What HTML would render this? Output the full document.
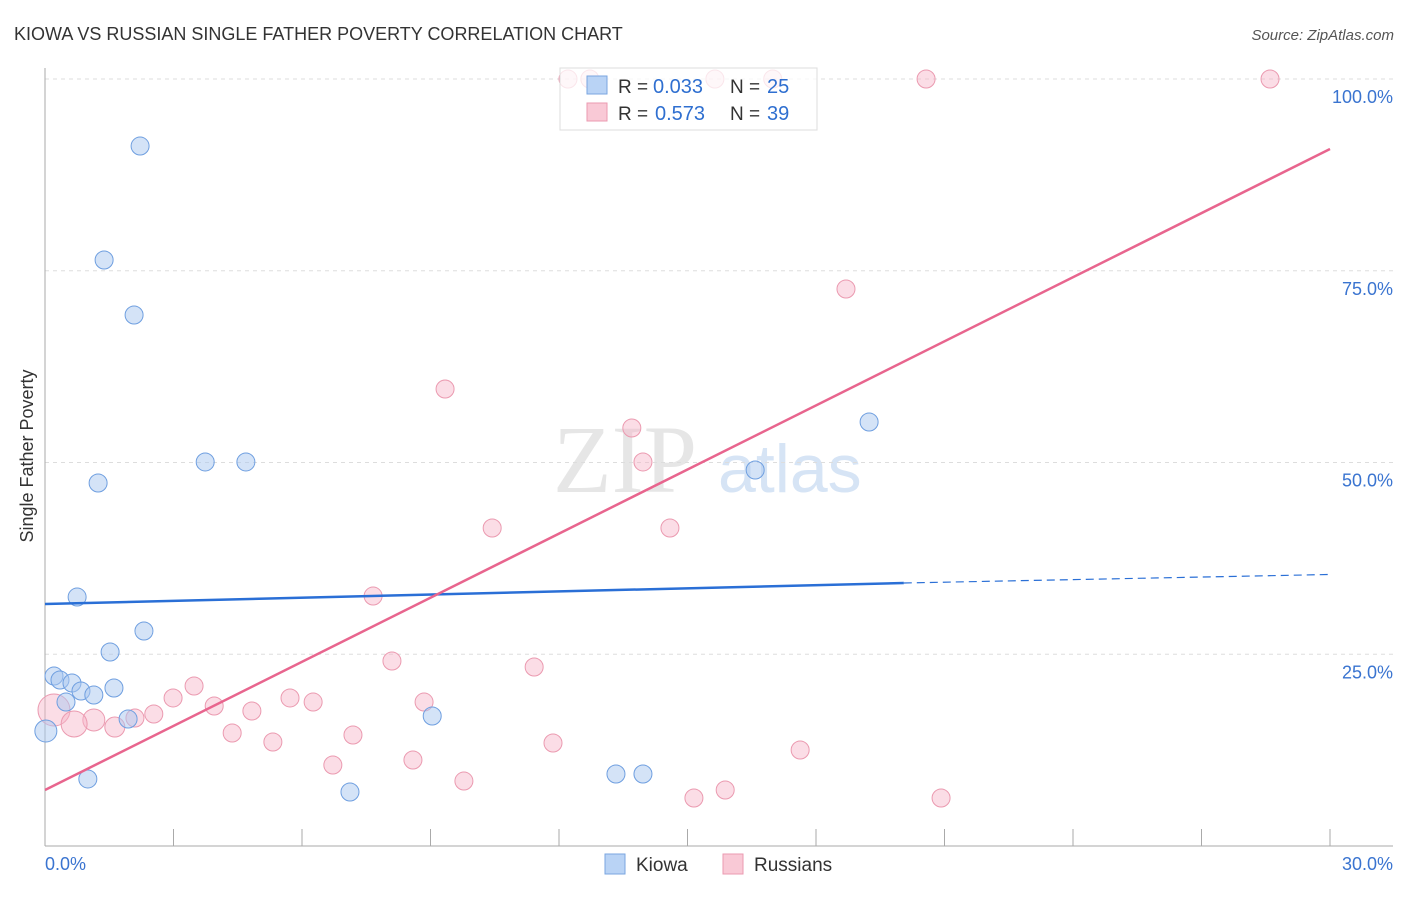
<!DOCTYPE html>
<html><head><meta charset="utf-8"><style>
body{margin:0;background:#fff;font-family:"Liberation Sans",sans-serif}
svg text{font-family:"Liberation Sans",sans-serif}
</style></head><body>
<svg id="c" width="1406" height="892">
<text x="14" y="40" font-size="18" fill="#333">KIOWA VS RUSSIAN SINGLE FATHER POVERTY CORRELATION CHART</text>
<text x="1394" y="40" font-size="15" fill="#555" font-style="italic" text-anchor="end">Source: ZipAtlas.com</text>
<text x="33" y="456" font-size="18" fill="#333" text-anchor="middle" transform="rotate(-90 33 456)">Single Father Poverty</text>
<text x="553" y="492" font-size="96" fill="#e6e6e6" style="font-family:'Liberation Serif',serif">ZIP</text>
<text x="718" y="492" font-size="68" fill="#d6e4f5">atlas</text>
<g id="grid"></g><g id="pts"></g><g id="lines"></g>
<g>
<rect x="560" y="68" width="257" height="62" fill="#fff" fill-opacity="0.75" stroke="#ddd"/>
<rect x="587" y="76" width="20" height="18" fill="#b9d3f5" stroke="#7aa6e0"/>
<rect x="587" y="103" width="20" height="18" fill="#f9c9d6" stroke="#eb9ab0"/>
<text x="618" y="93" font-size="19" fill="#333">R =</text>
<text x="653" y="93" font-size="20" fill="#2f6fd0">0.033</text>
<text x="730" y="93" font-size="19" fill="#333">N =</text>
<text x="767" y="93" font-size="20" fill="#2f6fd0">25</text>
<text x="618" y="120" font-size="19" fill="#333">R =</text>
<text x="655" y="120" font-size="20" fill="#2f6fd0">0.573</text>
<text x="730" y="120" font-size="19" fill="#333">N =</text>
<text x="767" y="120" font-size="20" fill="#2f6fd0">39</text>
</g>
<g>
<rect x="605" y="854" width="20" height="20" fill="#b9d3f5" stroke="#7aa6e0"/>
<text x="636" y="871" font-size="19" fill="#333">Kiowa</text>
<rect x="723" y="854" width="20" height="20" fill="#f9c9d6" stroke="#eb9ab0"/>
<text x="754" y="871" font-size="19" fill="#333">Russians</text>
</g>
</svg>
<script>
const yTicks=[25,50,75,100];
const yTickLabels=["25.0%","50.0%","75.0%","100.0%"];
const xTickLabels=["0.0%","30.0%"];
const kiowaX=[2.22,1.38,2.08,3.74,4.69,1.24,0.75,2.31,1.52,0.21,0.35,0.63,0.84,1.14,1.61,0.49,1.94,0.02,9.04,1.00,7.12,13.33,13.96,16.58,19.24];
const kiowaY=[91.26,76.40,69.23,50.07,50.07,47.33,32.46,28.03,25.29,22.16,21.64,21.25,20.21,19.69,20.60,18.77,16.56,14.99,16.95,8.74,7.04,9.39,9.39,49.02,55.28];
const kiowaR=[9,9,9,9,9,9,9,9,9,9,9,9,9,9,9,9,9,11,9,9,9,9,9,9,9];
const rusX=[12.21,12.72,15.64,16.99,20.57,28.60,18.70,9.34,13.70,13.96,10.44,14.59,7.66,8.10,11.42,3.48,2.99,5.72,6.26,3.95,8.85,2.54,4.83,2.10,1.14,0.21,0.68,1.63,4.37,7.19,5.32,11.86,17.63,8.59,6.72,9.78,15.88,15.15,20.92];
const rusY=[100,100,100,100,100,100,72.62,59.58,54.50,50.07,41.46,41.46,32.59,24.12,23.34,20.86,19.30,19.30,18.77,18.25,18.77,17.21,17.60,16.69,16.43,17.73,15.91,15.51,14.73,14.47,13.56,13.43,12.52,11.21,10.56,8.47,7.30,6.26,6.26];
const rusR=[9,9,9,9,9,9,9,9,9,9,9,9,9,9,9,9,9,9,9,9,9,9,9,9,11,16,13,10,9,9,9,9,9,9,9,9,9,9,9];
const kiowaLine=[31.55,34.29,35.4];
const kiowaLineX=[0,20.05,30];
const rusLine=[7.30,90.87];
const rusLineX=[0,30];
const X=v=>45+v/30*1285, Y=v=>846-v/100*767;
const NS="http://www.w3.org/2000/svg";
function mk(t,a,p){const e=document.createElementNS(NS,t);for(const k in a)e.setAttribute(k,a[k]);p.appendChild(e);return e;}
const grid=document.getElementById('grid');
yTicks.forEach((t,i)=>{
 const l=mk('line',{x1:45,x2:1393,y1:Y(t),y2:Y(t),stroke:'#ddd','stroke-dasharray':'4,4'},grid);
 
 
 const tx=mk('text',{x:1393,y:Y(t)+24,'font-size':18,fill:'#3a74d0','text-anchor':'end'},grid);tx.textContent=yTickLabels[i];
 
 
});
const ax=mk('line',{x1:45,x2:45,y1:68,y2:846,stroke:'#aaa'},grid);


const bx=mk('line',{x1:45,x2:1393,y1:846,y2:846,stroke:'#aaa'},grid);


for(let i=1;i<=10;i++){const t=mk('line',{x1:X(i*3),x2:X(i*3),y1:829,y2:846,stroke:'#aaa'},grid);
 
 }
[[0,'start',45],[30,'end',1393]].forEach((d,i)=>{const t=mk('text',{x:d[2],y:870,'font-size':18,fill:'#3a74d0','text-anchor':d[1]},grid);t.textContent=xTickLabels[i];
 
 });
const pts=document.getElementById('pts');
rusX.forEach((x,i)=>{const c=mk('circle',{cx:X(x),cy:Y(rusY[i]),r:rusR[i],fill:'rgba(246,180,200,0.45)',stroke:'#eb9ab0','stroke-width':1},pts);
 
 });
kiowaX.forEach((x,i)=>{const c=mk('circle',{cx:X(x),cy:Y(kiowaY[i]),r:kiowaR[i],fill:'rgba(170,200,240,0.5)',stroke:'#6f9fe0','stroke-width':1},pts);
 
 });
const L=document.getElementById('lines');
const k1=mk('line',{x1:X(kiowaLineX[0]),y1:Y(kiowaLine[0]),x2:X(kiowaLineX[1]),y2:Y(kiowaLine[1]),stroke:'#2a6fd6','stroke-width':2.5},L);


const k2=mk('line',{x1:X(kiowaLineX[1]),y1:Y(kiowaLine[1]),x2:X(kiowaLineX[2]),y2:Y(kiowaLine[2]),stroke:'#2a6fd6','stroke-width':1.2,'stroke-dasharray':'8,5'},L);


const r1=mk('line',{x1:X(rusLineX[0]),y1:Y(rusLine[0]),x2:X(rusLineX[1]),y2:Y(rusLine[1]),stroke:'#e8658e','stroke-width':2.5},L);


</script>
</body></html>
